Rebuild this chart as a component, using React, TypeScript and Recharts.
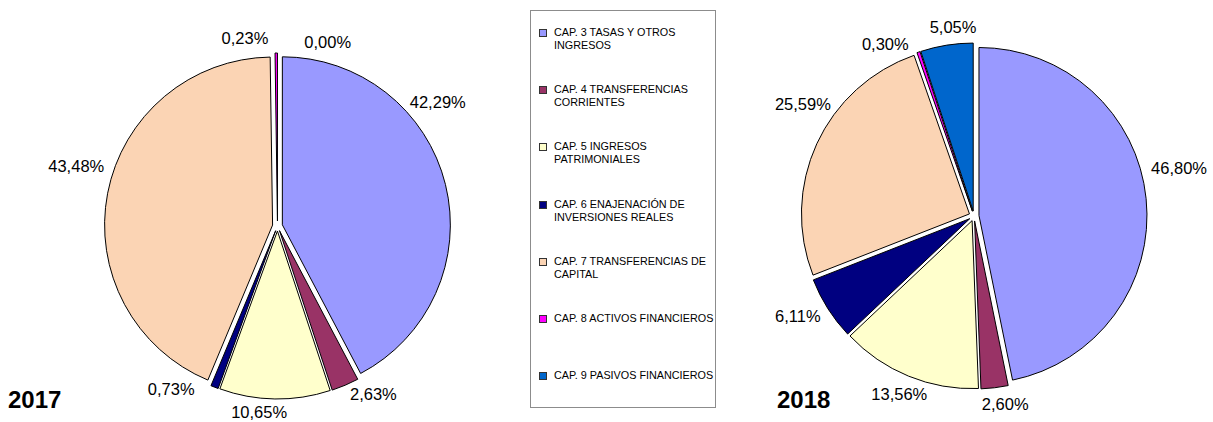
import { PieChart, Pie, Cell, Sector } from 'recharts';

const CATEGORIES = [
  'CAP. 3 TASAS Y OTROS INGRESOS',
  'CAP. 4 TRANSFERENCIAS CORRIENTES',
  'CAP. 5 INGRESOS PATRIMONIALES',
  'CAP. 6 ENAJENACIÓN DE INVERSIONES REALES',
  'CAP. 7 TRANSFERENCIAS DE CAPITAL',
  'CAP. 8 ACTIVOS FINANCIEROS',
  'CAP. 9 PASIVOS FINANCIEROS',
];
const COLORS = ['#9999FF', '#993366', '#FFFFCC', '#000080', '#FBD4B4', '#FF00FF', '#0066CC'];

const VALUES_2017 = [42.29, 2.63, 10.65, 0.73, 43.48, 0.23, 0.0];
const VALUES_2018 = [46.8, 2.6, 13.56, 6.11, 25.59, 0.3, 5.05];

// small angle nudges (deg) so labels sit where the original has them
const LABEL_SHIFT_2017 = [27, 4.5, -4.1, -9.5, -7.4, 8.6, -14];
const LABEL_SHIFT_2018 = [8.9, 1.8, 1.6, -0.5, -11.5, 6.6, -3.3];

const RADIAN = Math.PI / 180;
const RADIUS = 168;
const EXPLODE = 5;
const HEIGHT = 422;
const FONT = '"Liberation Sans", Arial, sans-serif';
const LABEL_SIZE = 16.5;

const fmt = (v: number) => v.toFixed(2).replace('.', ',') + '%';

// rough Arial width of a "12,34%" style label
const labelWidth = (t: string) => {
  let w = 0;
  for (const ch of t) {
    if (ch === ',') w += 0.278;
    else if (ch === '%') w += 0.889;
    else w += 0.556;
  }
  return w * LABEL_SIZE;
};

const ExplodedSector = (props: any) => {
  const { cx, cy, midAngle, innerRadius, outerRadius, startAngle, endAngle, fill } = props;
  const dx = EXPLODE * Math.cos(-midAngle * RADIAN);
  const dy = EXPLODE * Math.sin(-midAngle * RADIAN);
  return (
    <Sector
      cx={cx + dx}
      cy={cy + dy}
      innerRadius={innerRadius}
      outerRadius={outerRadius}
      startAngle={startAngle}
      endAngle={endAngle}
      fill={fill}
      stroke="#000"
      strokeWidth={1}
    />
  );
};

const makeLabel = (values: number[], shifts: number[]) => (props: any) => {
  const { cx, cy, midAngle, outerRadius, index } = props;
  const a = (midAngle + shifts[index]) * RADIAN;
  const c = Math.cos(a);
  const s = Math.sin(a);
  const text = fmt(values[index]);
  const hw = labelWidth(text) / 2 + 3;
  const base = outerRadius + EXPLODE + 8;
  const x = cx + (base + hw) * c;
  // keep the text inside the picture at the bottom
  const y = Math.min(cy - (base + 9) * s, HEIGHT - LABEL_SIZE * 0.62);
  return (
    <text
      key={'l' + index}
      x={x}
      y={y}
      textAnchor="middle"
      dominantBaseline="central"
      fill="#000"
      style={{ fontFamily: FONT, fontSize: LABEL_SIZE }}
    >
      {text}
    </text>
  );
};

function YearPie({ values, shifts, width, cx, cy }: any) {
  const data = CATEGORIES.map((name, i) => ({ name, value: values[i] }));
  return (
    <PieChart width={width} height={HEIGHT} margin={{ top: 0, right: 0, bottom: 0, left: 0 }}>
      <Pie
        data={data}
        dataKey="value"
        nameKey="name"
        cx={cx}
        cy={cy}
        outerRadius={RADIUS}
        startAngle={90}
        endAngle={-270}
        stroke="#000"
        strokeWidth={1}
        labelLine={false}
        label={makeLabel(values, shifts)}
        shape={ExplodedSector}
        isAnimationActive={false}
      >
        {data.map((d, i) => (
          <Cell key={d.name} fill={COLORS[i]} />
        ))}
      </Pie>
    </PieChart>
  );
}

const yearStyle: any = {
  position: 'absolute',
  top: 388,
  fontFamily: FONT,
  fontWeight: 'bold',
  fontSize: 24,
  lineHeight: '24px',
  color: '#000',
};

export default function App() {
  return (
    <div style={{ position: 'absolute', left: 0, top: 0, width: 1213, height: HEIGHT, background: '#fff', fontFamily: FONT }}>
      <div style={{ position: 'absolute', left: 0, top: 0 }}>
        <YearPie values={VALUES_2017} shifts={LABEL_SHIFT_2017} width={470} cx={277.5} cy={226} />
      </div>
      <div style={{ position: 'absolute', left: 740, top: 0 }}>
        <YearPie values={VALUES_2018} shifts={LABEL_SHIFT_2018} width={473} cx={234} cy={216} />
      </div>

      <div style={{ ...yearStyle, left: 8 }}>2017</div>
      <div style={{ ...yearStyle, left: 777 }}>2018</div>

      <div
        style={{
          position: 'absolute',
          left: 530,
          top: 10,
          width: 184,
          height: 396,
          border: '1px solid #8c8c8c',
          boxSizing: 'content-box',
        }}
      >
        {CATEGORIES.map((name, i) => (
          <div
            key={name}
            style={{ position: 'absolute', left: 8, top: 15 + i * 57.2, display: 'flex', alignItems: 'flex-start' }}
          >
            <div
              style={{
                width: 6,
                height: 6,
                marginTop: 3,
                background: COLORS[i],
                border: '1px solid #333',
                flex: 'none',
              }}
            />
            <div style={{ marginLeft: 7, width: 166, fontSize: 10.8, lineHeight: '13px', color: '#000' }}>{name}</div>
          </div>
        ))}
      </div>
    </div>
  );
}
